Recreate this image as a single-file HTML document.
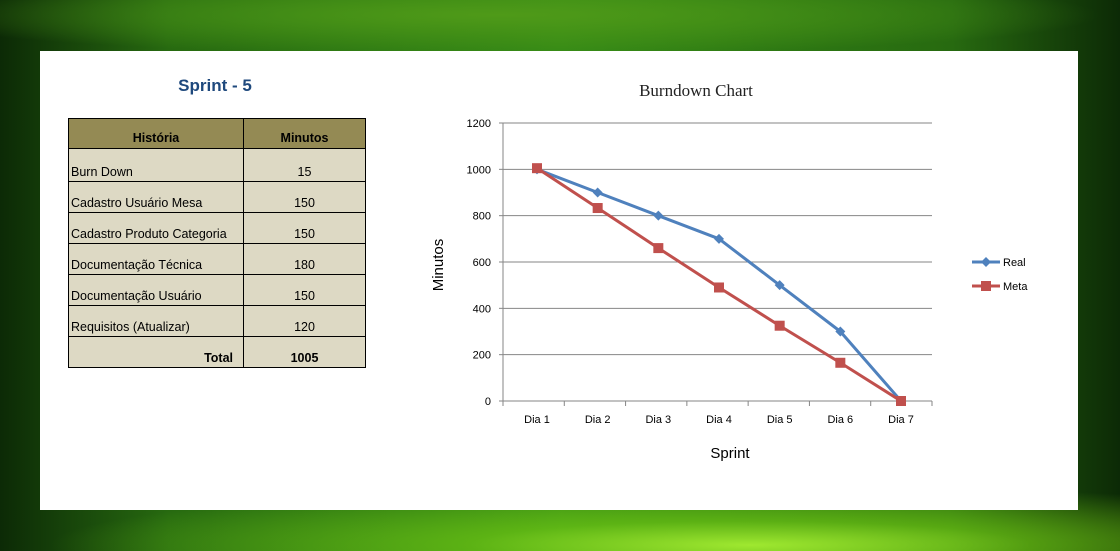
<!DOCTYPE html>
<html><head><meta charset="utf-8">
<style>
body{margin:0;width:1120px;height:551px;overflow:hidden;position:relative;font-family:"Liberation Sans",sans-serif;
background:
radial-gradient(ellipse 700px 60px at 750px 545px,#9fe830 0%,rgba(120,210,20,0.6) 40%,rgba(0,0,0,0) 100%),
radial-gradient(ellipse 600px 40px at 500px 15px,#4f9a18 0%,rgba(0,0,0,0) 100%),
linear-gradient(90deg,#0c2a06 0%,#276a10 15%,#358a16 50%,#276a10 85%,#0c2a06 100%);}
#panel{position:absolute;left:40px;top:51px;width:1038px;height:459px;background:#fff;}
table{position:absolute;left:68px;top:118px;border-collapse:collapse;font-family:"Liberation Sans",sans-serif;font-size:12.5px;color:#000;}
td{border:1px solid #000;background:#ddd9c4;padding:0 2px 2px 2px;vertical-align:bottom;height:28px;}
tr.h td{background:#948a54;font-weight:bold;text-align:center;height:26px;vertical-align:bottom;padding-bottom:3px;}
td.n{text-align:center;}
</style></head><body>
<div id="panel"></div>
<div style="position:absolute;left:140px;top:76px;width:150px;text-align:center;font-weight:bold;font-size:17px;color:#1f497d;">Sprint - 5</div>
<table>
<tr class="h"><td style="width:170px">História</td><td style="width:117px">Minutos</td></tr>
<tr style="height:33px"><td>Burn Down</td><td class="n">15</td></tr>
<tr><td>Cadastro Usuário Mesa</td><td class="n">150</td></tr>
<tr><td>Cadastro Produto Categoria</td><td class="n">150</td></tr>
<tr><td>Documentação Técnica</td><td class="n">180</td></tr>
<tr><td>Documentação Usuário</td><td class="n">150</td></tr>
<tr><td>Requisitos (Atualizar)</td><td class="n">120</td></tr>
<tr><td style="text-align:right;font-weight:bold;padding-right:10px">Total</td><td class="n" style="font-weight:bold">1005</td></tr>
</table>
<svg id="chart" width="1120" height="551" style="position:absolute;left:0;top:0"></svg>
<script>
const categories=["Dia 1","Dia 2","Dia 3","Dia 4","Dia 5","Dia 6","Dia 7"];
const realValues=[1000,900,800,700,500,300,0];
const metaValues=[1005,833,660,490,325,165,0];
const yTicks=[0,200,400,600,800,1000,1200];
const NS="http://www.w3.org/2000/svg";
const svg=document.getElementById('chart');
const X0=503,X1=932,Y0=401,Y1=123,YMAX=1200;
const band=(X1-X0)/categories.length;
const xs=i=>537+(901-537)/(categories.length-1)*i;
const ys=v=>Y0-(v/YMAX)*(Y0-Y1);
function el(t,a,txt){const e=document.createElementNS(NS,t);for(const k in a)e.setAttribute(k,a[k]);if(txt!==undefined)e.textContent=txt;svg.appendChild(e);return e;}
let t=el('text',{x:696,y:96,'text-anchor':'middle','font-family':'Liberation Serif, serif','font-size':17,fill:'#222'},'Burndown Chart');


yTicks.forEach(v=>{
 const g=el('line',{x1:X0,x2:X1,y1:ys(v),y2:ys(v),stroke:'#868686','stroke-width':1});
 
 
 el('line',{x1:X0-4,x2:X0,y1:ys(v),y2:ys(v),stroke:'#868686'});
 const l=el('text',{x:X0-12,y:ys(v)+4,'text-anchor':'end','font-size':11,fill:'#000'},v);
 
 
});
el('line',{x1:X0,x2:X0,y1:Y1,y2:Y0+5,stroke:'#868686'});
categories.forEach((c,i)=>{
 el('line',{x1:X0+band*(i+1),x2:X0+band*(i+1),y1:Y0,y2:Y0+5,stroke:'#868686'});
 const l=el('text',{x:xs(i),y:423,'text-anchor':'middle','font-size':11,fill:'#000'},c);
 
 
});
t=el('text',{x:730,y:458,'text-anchor':'middle','font-size':15,fill:'#000'},'Sprint');


t=el('text',{x:443,y:265,'text-anchor':'middle','font-size':15,fill:'#000',transform:'rotate(-90 443 265)'},'Minutos');


function series(vals,color,name,marker){
 const p=el('polyline',{points:vals.map((v,i)=>xs(i)+','+ys(v)).join(' '),fill:'none',stroke:color,'stroke-width':3,'stroke-linejoin':'round'});
 
 
 vals.forEach((v,i)=>{
  const m=marker(xs(i),ys(v));
  
  
 });
}
const diamond=(x,y)=>el('polygon',{points:`${x},${y-5} ${x+5},${y} ${x},${y+5} ${x-5},${y}`,fill:'#4f81bd'});
const square=(x,y)=>el('rect',{x:x-5,y:y-5,width:10,height:10,fill:'#c0504d'});
series(realValues,'#4f81bd','real',diamond);
series(metaValues,'#c0504d','meta',square);
[['Real','#4f81bd',262,diamond],['Meta','#c0504d',286,square]].forEach(([n,c,y,m])=>{
 el('line',{x1:972,x2:1000,y1:y,y2:y,stroke:c,'stroke-width':3});
 m(986,y);
 const l=el('text',{x:1003,y:y+4,'font-size':11,fill:'#000'},n);
 
 
});
</script>
</body></html>
